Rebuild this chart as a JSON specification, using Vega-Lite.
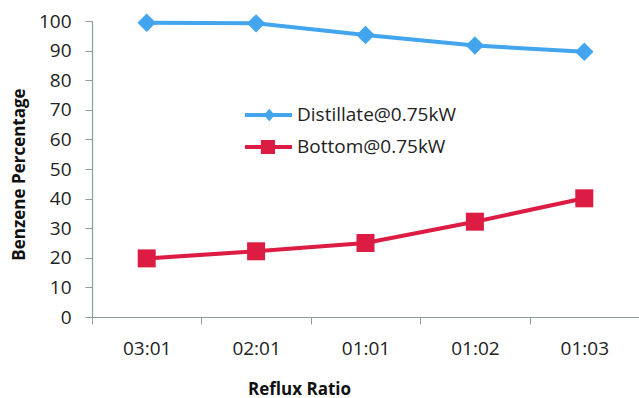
{
  "$schema": "https://vega.github.io/schema/vega-lite/v6.json",
  "width": 547,
  "height": 296,
  "autosize": {"type": "none"},
  "padding": {"left": 92, "top": 21, "right": 0, "bottom": 81},
  "background": "white",
  "config": {"view": {"stroke": null}, "font": "Open Sans"},
  "data": {
    "values": [
      {"series": "Distillate@0.75kW", "ratio": "03:01", "pct": 99.4},
      {"series": "Distillate@0.75kW", "ratio": "02:01", "pct": 99.2},
      {"series": "Distillate@0.75kW", "ratio": "01:01", "pct": 95.3},
      {"series": "Distillate@0.75kW", "ratio": "01:02", "pct": 91.7},
      {"series": "Distillate@0.75kW", "ratio": "01:03", "pct": 89.6},
      {"series": "Bottom@0.75kW", "ratio": "03:01", "pct": 19.8},
      {"series": "Bottom@0.75kW", "ratio": "02:01", "pct": 22.2},
      {"series": "Bottom@0.75kW", "ratio": "01:01", "pct": 25.0},
      {"series": "Bottom@0.75kW", "ratio": "01:02", "pct": 32.2},
      {"series": "Bottom@0.75kW", "ratio": "01:03", "pct": 40.1}
    ]
  },
  "encoding": {
    "x": {
      "field": "ratio",
      "type": "nominal",
      "sort": ["03:01", "02:01", "01:01", "01:02", "01:03"],
      "scale": {"paddingInner": 0, "paddingOuter": 0},
      "axis": {
        "title": "Reflux Ratio",
        "labelAngle": 0,
        "labelFont": "Open Sans",
        "labelFontSize": 19,
        "labelColor": "#222222",
        "labelPadding": 15,
        "tickBand": "extent",
        "tickSize": 7,
        "tickColor": "#8f9b9b",
        "domainColor": "#8f9b9b",
        "domainWidth": 1.2,
        "titleFont": "Open Sans",
        "titleFontSize": 17,
        "titleFontWeight": "bold",
        "titleColor": "#111111",
        "titleAnchor": null,
        "titleAlign": "center",
        "titleBaseline": "top",
        "titleX": 207,
        "titleY": 64
      }
    },
    "y": {
      "field": "pct",
      "type": "quantitative",
      "scale": {"domain": [0, 100]},
      "axis": {
        "title": "Benzene Percentage",
        "values": [0, 10, 20, 30, 40, 50, 60, 70, 80, 90, 100],
        "grid": false,
        "labelFont": "Open Sans",
        "labelFontSize": 19,
        "labelColor": "#222222",
        "labelPadding": 14,
        "tickSize": 7,
        "tickColor": "#8f9b9b",
        "domainColor": "#8f9b9b",
        "domainWidth": 1.2,
        "titleFont": "Open Sans",
        "titleFontSize": 17,
        "titleFontWeight": "bold",
        "titleColor": "#111111",
        "titleAngle": 270,
        "titleAnchor": null,
        "titleAlign": "center",
        "titleBaseline": "middle",
        "titleX": -73,
        "titleY": 153
      }
    },
    "color": {
      "field": "series",
      "type": "nominal",
      "scale": {
        "domain": ["Distillate@0.75kW", "Bottom@0.75kW"],
        "range": ["#42a5ee", "#dc1c42"]
      },
      "legend": {
        "orient": "none",
        "legendX": 153,
        "legendY": 79,
        "title": null,
        "padding": 0,
        "symbolSize": 900,
        "symbolStrokeWidth": 0,
        "labelOffset": 22,
        "rowPadding": 7,
        "labelFont": "Open Sans",
        "labelFontSize": 19,
        "labelColor": "#222222",
        "encode": {
          "symbols": {
            "update": {
              "shape": {"signal": "datum.value === 'Distillate@0.75kW' ? 'M-1,-0.13H2.13V0.13H-1Z M0.26,0L0.62,-0.42L0.98,0L0.62,0.42Z' : 'M-1,-0.13H2.13V0.13H-1Z M0.06,-0.47H1V0.47H0.06Z'"},
              "fill": {"scale": "color", "field": "value"},
              "strokeWidth": {"value": 0},
              "opacity": {"value": 1}
            }
          }
        }
      }
    }
  },
  "layer": [
    {"mark": {"type": "line", "strokeWidth": 4}},
    {
      "transform": [{"filter": "datum.series === 'Distillate@0.75kW'"}],
      "mark": {"type": "point", "shape": "diamond", "filled": true, "opacity": 1, "size": 340}
    },
    {
      "transform": [{"filter": "datum.series === 'Bottom@0.75kW'"}],
      "mark": {"type": "point", "shape": "square", "filled": true, "opacity": 1, "size": 324}
    }
  ]
}
